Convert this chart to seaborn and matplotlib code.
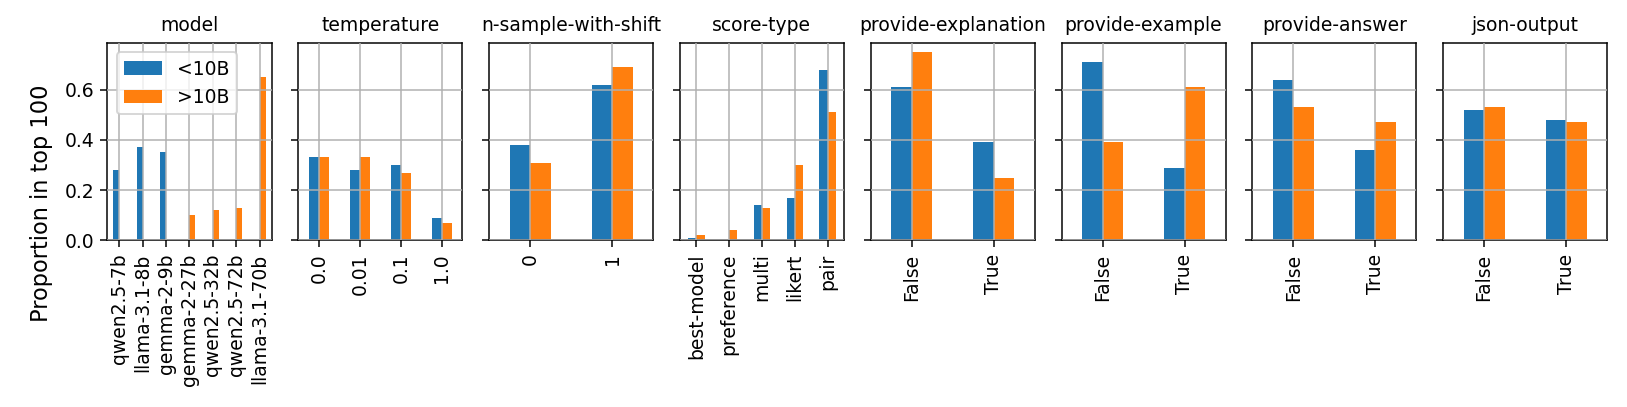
import matplotlib
matplotlib.use("Agg")
import matplotlib.pyplot as plt
import seaborn as sns
import pandas as pd
import numpy as np

size_groups = ["<10B", ">10B"]
colors = ["#1f77b4", "#ff7f0e"]

model_cats = ["qwen2.5-7b", "llama-3.1-8b", "gemma-2-9b", "gemma-2-27b",
              "qwen2.5-32b", "qwen2.5-72b", "llama-3.1-70b"]
model_small = [0.28, 0.37, 0.35, np.nan, np.nan, np.nan, np.nan]
model_large = [np.nan, np.nan, np.nan, 0.10, 0.12, 0.13, 0.65]

temp_cats = ["0.0", "0.01", "0.1", "1.0"]
temp_small = [0.33, 0.28, 0.30, 0.09]
temp_large = [0.33, 0.33, 0.27, 0.07]

nshift_cats = ["0", "1"]
nshift_small = [0.38, 0.62]
nshift_large = [0.31, 0.69]

score_cats = ["best-model", "preference", "multi", "likert", "pair"]
score_small = [0.01, 0.0, 0.14, 0.17, 0.68]
score_large = [0.02, 0.04, 0.13, 0.30, 0.51]

bool_cats = ["False", "True"]
expl_small = [0.61, 0.39]
expl_large = [0.75, 0.25]
example_small = [0.71, 0.29]
example_large = [0.39, 0.61]
answer_small = [0.64, 0.36]
answer_large = [0.53, 0.47]
json_small = [0.52, 0.48]
json_large = [0.53, 0.47]

panels = [
    ("model", model_cats, model_small, model_large),
    ("temperature", temp_cats, temp_small, temp_large),
    ("n-sample-with-shift", nshift_cats, nshift_small, nshift_large),
    ("score-type", score_cats, score_small, score_large),
    ("provide-explanation", bool_cats, expl_small, expl_large),
    ("provide-example", bool_cats, example_small, example_large),
    ("provide-answer", bool_cats, answer_small, answer_large),
    ("json-output", bool_cats, json_small, json_large),
]

DPI = 135
W, H = 1627, 407
fig = plt.figure(figsize=(W / DPI, H / DPI), dpi=DPI)

ax_w = 164 / W
ax_h = 197.6 / H
ax_b = (H - 240.3) / H
pitch = 190.8

axes = []
for i, (title, cats, small, large) in enumerate(panels):
    left = (107.5 + pitch * i) / W
    ax = fig.add_axes([left, ax_b, ax_w, ax_h], sharey=axes[0] if axes else None)
    axes.append(ax)
    df = pd.DataFrame({
        "category": list(cats) * 2,
        "size": [size_groups[0]] * len(cats) + [size_groups[1]] * len(cats),
        "value": list(small) + list(large),
    })
    sns.barplot(data=df, x="category", y="value", hue="size", order=cats,
                hue_order=size_groups, palette=colors, width=0.5,
                saturation=1, linewidth=0, errorbar=None, ax=ax,
                legend=(i == 0))
    ax.set_title(title, fontsize=10)
    ax.set_xlabel("")
    ax.set_ylabel("")
    ax.tick_params(axis="x", labelrotation=90)
    ax.grid(True, color="#b0b0b0", linewidth=0.8)
    ax.set_axisbelow(False)
    for p in ax.patches:
        p.set_zorder(1)
    for s in ax.spines.values():
        s.set_color("black")
    ax.set_xlim(-0.5, len(cats) - 0.5)
    ax.set_ylim(0, 0.7875)
    ax.set_yticks([0.0, 0.2, 0.4, 0.6])
    if i > 0:
        ax.tick_params(axis="y", labelleft=False)

fig.text(42 / W, 0.5, "Proportion in top 100", rotation=90,
         ha="center", va="center", fontsize=12)
leg = axes[0].get_legend()
if leg is not None:
    leg.remove()
axes[0].legend(loc="upper left", fontsize=10)

fig.savefig("out.png", dpi=DPI)
